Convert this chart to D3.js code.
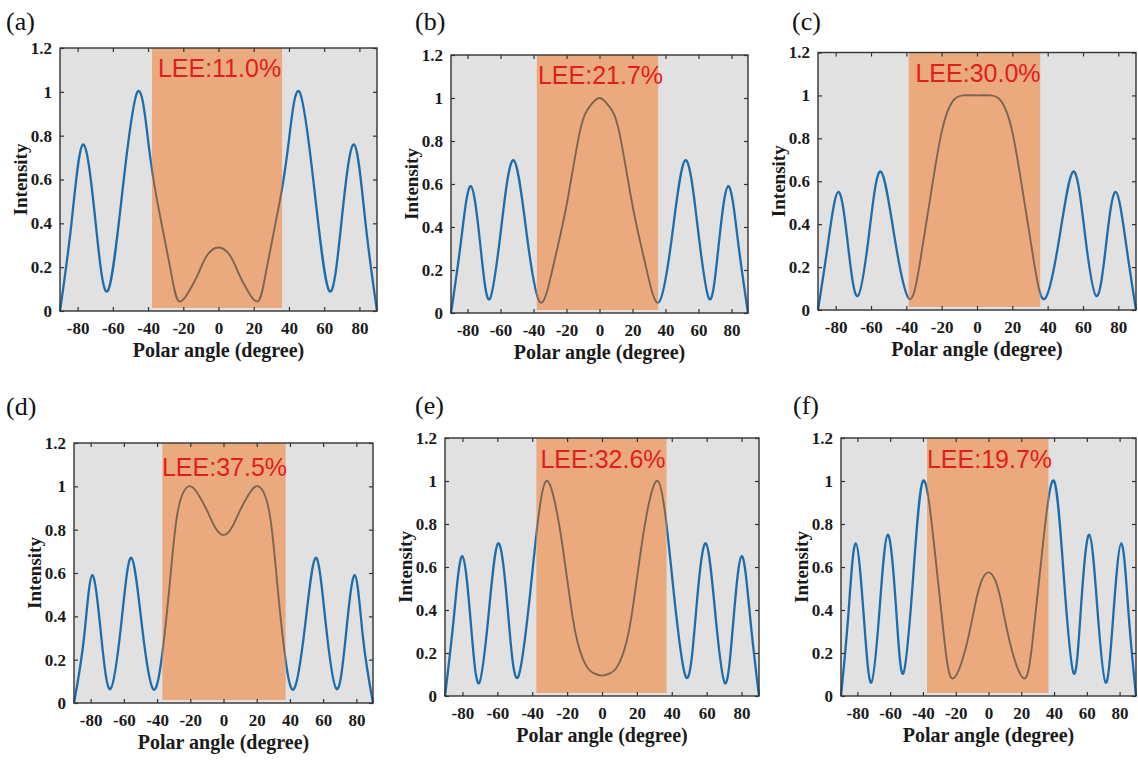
<!DOCTYPE html>
<html>
<head>
<meta charset="utf-8">
<script src="https://cdn.jsdelivr.net/npm/d3@7"></script>
<style>
  body { margin: 0; background: #fff; }
  svg { display: block; }
</style>
</head>
<body>
<svg id="chart" width="1138" height="760"></svg>
<script>
// panel names and LEE captions
var panelNames = ['(a)', '(b)', '(c)', '(d)', '(e)', '(f)'];
var leeLabels = ['LEE:11.0%', 'LEE:21.7%', 'LEE:30.0%', 'LEE:37.5%', 'LEE:32.6%', 'LEE:19.7%'];

// escape-cone band edges (degree)
var bandEdges = [[-37.8, 36.1], [-38, 35.6], [-38.7, 35.8], [-36.8, 37.4], [-37.6, 37], [-37.5, 36.6]];

var xTicks = [-80, -60, -40, -20, 0, 20, 40, 60, 80];
var yTicks = [0, 0.2, 0.4, 0.6, 0.8, 1, 1.2];

// polar angle vs intensity
var angleA = [-90, -83.5, -77, -70, -63, -54.5, -46, -40, -35, -27.5, -22.5, -16, -11.5, -6.8, 0, 6.8, 11.5, 16, 22.5, 27.5, 35, 40, 46, 54.5, 63, 70, 77, 83.5, 90];
var intensityA = [0, 0.40, 0.76, 0.42, 0.09, 0.55, 1.0, 0.78, 0.51, 0.20, 0.045, 0.10, 0.17, 0.25, 0.29, 0.25, 0.17, 0.10, 0.045, 0.20, 0.51, 0.78, 1.0, 0.55, 0.09, 0.42, 0.76, 0.40, 0];

var angleB = [-90, -84, -78, -72, -66.5, -59.5, -52, -44, -36, -28, -20, -12, -6, 0, 6, 12, 20, 28, 36, 44, 52, 59.5, 66.5, 72, 78, 84, 90];
var intensityB = [0, 0.33, 0.59, 0.30, 0.065, 0.40, 0.71, 0.36, 0.05, 0.22, 0.50, 0.84, 0.96, 1.0, 0.96, 0.84, 0.50, 0.22, 0.05, 0.36, 0.71, 0.40, 0.065, 0.30, 0.59, 0.33, 0];

var angleC = [-90, -84.5, -78.5, -73, -67.5, -61, -54.5, -46.5, -38.5, -32.5, -26.5, -20, -14, -8, 0, 8, 14, 20, 26.5, 32.5, 38.5, 46.5, 54.5, 61, 67.5, 73, 78.5, 84.5, 90];
var intensityC = [0, 0.30, 0.55, 0.30, 0.065, 0.36, 0.645, 0.33, 0.053, 0.21, 0.52, 0.83, 0.97, 1.0, 1.0, 1.0, 0.97, 0.83, 0.52, 0.21, 0.053, 0.33, 0.645, 0.36, 0.065, 0.30, 0.55, 0.30, 0];

var angleD = [-90, -84, -79, -73.5, -68, -61.5, -55.5, -49, -42.5, -37, -32, -27.5, -21, -15, -10, -5, 0, 5, 10, 15, 21, 27.5, 32, 37, 42.5, 49, 55.5, 61.5, 68, 73.5, 79, 84, 90];
var intensityD = [0, 0.30, 0.59, 0.30, 0.065, 0.37, 0.67, 0.35, 0.065, 0.22, 0.58, 0.885, 1.0, 0.96, 0.89, 0.81, 0.775, 0.81, 0.89, 0.96, 1.0, 0.885, 0.58, 0.22, 0.065, 0.35, 0.67, 0.37, 0.065, 0.30, 0.59, 0.30, 0];

var angleE = [-90, -85, -80, -75, -70.5, -65, -59.5, -54, -48, -40, -36, -32, -27, -22.5, -18, -14, -9, -4.5, 0, 4.5, 9, 14, 18, 22.5, 27, 32, 36, 40, 48, 54, 59.5, 65, 70.5, 75, 80, 85, 90];
var intensityE = [0, 0.36, 0.65, 0.32, 0.06, 0.38, 0.71, 0.40, 0.09, 0.57, 0.86, 1.0, 0.90, 0.69, 0.43, 0.25, 0.14, 0.105, 0.095, 0.105, 0.14, 0.25, 0.43, 0.69, 0.90, 1.0, 0.86, 0.57, 0.09, 0.40, 0.71, 0.38, 0.06, 0.32, 0.65, 0.36, 0];

var angleF = [-90, -85.5, -81, -76, -71.5, -66.5, -61.5, -56.5, -52, -46, -40, -33, -26.5, -21.5, -14, -8, -4, 0, 4, 8, 14, 21.5, 26.5, 33, 40, 46, 52, 56.5, 61.5, 66.5, 71.5, 76, 81, 85.5, 90];
var intensityF = [0, 0.38, 0.71, 0.36, 0.062, 0.40, 0.75, 0.42, 0.105, 0.55, 1.0, 0.69, 0.23, 0.082, 0.22, 0.43, 0.54, 0.575, 0.54, 0.43, 0.22, 0.082, 0.23, 0.69, 1.0, 0.55, 0.105, 0.42, 0.75, 0.40, 0.062, 0.36, 0.71, 0.38, 0];

var angles = [angleA, angleB, angleC, angleD, angleE, angleF];
var intensities = [intensityA, intensityB, intensityC, intensityD, intensityE, intensityF];

// where each panel sits on the page
var layout = [
  {x0: 60,  x1: 377,  y0: 48,  y1: 311, lx: 6,   ly: 30,  leeDy: 29},
  {x0: 451, x1: 748,  y0: 55,  y1: 313, lx: 415, ly: 30,  leeDy: 29},
  {x0: 818, x1: 1136, y0: 52.5, y1: 310, lx: 792, ly: 30, leeDy: 29},
  {x0: 74,  x1: 373,  y0: 443, y1: 703, lx: 6,   ly: 415, leeDy: 33},
  {x0: 445, x1: 759,  y0: 438, y1: 696, lx: 415, ly: 414, leeDy: 30},
  {x0: 841, x1: 1136, y0: 438, y1: 696, lx: 793, ly: 414, leeDy: 30}
];

var serif = '"Liberation Serif", "Times New Roman", serif',
    sans = '"Liberation Sans", Arial, sans-serif',
    grey_bg = '#e1e1e1',
    band_fill = '#ebaa7d',
    line_blue = '#1c6dad',
    line_in = '#7b6554',
    frame_col = '#333';

var svg = d3.select('#chart');
var defs = svg.append('defs');

panelNames.forEach(function(name, i) {
  var box = layout[i],
      band = bandEdges[i];

  var x = d3.scaleLinear().domain([-90, 90]).range([box.x0, box.x1]),
      y = d3.scaleLinear().domain([0, 1.2]).range([box.y1, box.y0]);

  var pts = angles[i].map(function(a, k) { return [a, intensities[i][k]]; });

  var g = svg.append('g');

  g.append('rect')
    .attr('x', box.x0).attr('y', box.y0)
    .attr('width', box.x1 - box.x0).attr('height', box.y1 - box.y0)
    .attr('fill', grey_bg);

  g.append('rect')
    .attr('x', x(band[0])).attr('y', box.y0)
    .attr('width', x(band[1]) - x(band[0])).attr('height', box.y1 - box.y0 - 3)
    .attr('fill', band_fill);

  // clip regions: outside band (blue) and inside band (muted)
  var outId = 'out' + i, inId = 'in' + i;
  var cOut = defs.append('clipPath').attr('id', outId);
  cOut.append('rect').attr('x', box.x0 - 5).attr('y', box.y0 - 5)
    .attr('width', x(band[0]) - box.x0 + 5).attr('height', box.y1 - box.y0 + 10);
  cOut.append('rect').attr('x', x(band[1])).attr('y', box.y0 - 5)
    .attr('width', box.x1 - x(band[1]) + 5).attr('height', box.y1 - box.y0 + 10);
  defs.append('clipPath').attr('id', inId)
    .append('rect').attr('x', x(band[0])).attr('y', box.y0 - 5)
    .attr('width', x(band[1]) - x(band[0])).attr('height', box.y1 - box.y0 + 10);

  var line = d3.line()
    .x(function(d) { return x(d[0]); })
    .y(function(d) { return y(Math.max(0, d[1])); })
    .curve(d3.curveNatural);

  g.append('path').datum(pts)
    .attr('d', line).attr('fill', 'none')
    .attr('stroke', line_blue).attr('stroke-width', 2.3)
    .attr('clip-path', 'url(#' + outId + ')');
  g.append('path').datum(pts)
    .attr('d', line).attr('fill', 'none')
    .attr('stroke', line_in).attr('stroke-width', 1.9)
    .attr('clip-path', 'url(#' + inId + ')');

  // axes, ticks pointing inward like matlab's box
  var bottom = g.append('g').attr('transform', 'translate(0,' + box.y1 + ')')
    .call(d3.axisBottom(x).tickValues(xTicks).tickSize(-4).tickPadding(11).tickFormat(String));
  var top = g.append('g').attr('transform', 'translate(0,' + box.y0 + ')')
    .call(d3.axisTop(x).tickValues(xTicks).tickSize(-4).tickFormat(''));
  var left = g.append('g').attr('transform', 'translate(' + box.x0 + ',0)')
    .call(d3.axisLeft(y).tickValues(yTicks).tickSize(-4).tickPadding(8).tickFormat(String));
  var right = g.append('g').attr('transform', 'translate(' + box.x1 + ',0)')
    .call(d3.axisRight(y).tickValues(yTicks).tickSize(-4).tickFormat(''));

  [bottom, top, left, right].forEach(function(ax) {
    ax.select('.domain').remove();
    ax.selectAll('line').attr('stroke', frame_col).attr('stroke-width', 1.2);
    ax.selectAll('text')
      .attr('fill', '#1a1a1a')
      .style('font-family', serif)
      .style('font-weight', 'bold')
      .style('font-size', '17px');
  });

  g.append('rect')
    .attr('x', box.x0).attr('y', box.y0)
    .attr('width', box.x1 - box.x0).attr('height', box.y1 - box.y0)
    .attr('fill', 'none').attr('stroke', frame_col).attr('stroke-width', 1.4);

  g.append('text')
    .attr('x', x(0) + 1).attr('y', box.y0 + box.leeDy)
    .attr('text-anchor', 'middle')
    .style('font-family', sans).style('font-size', '25px')
    .attr('fill', '#e21d1d')
    .text(leeLabels[i]);

  g.append('text')
    .attr('x', x(0)).attr('y', box.y1 + 46)
    .attr('text-anchor', 'middle')
    .style('font-family', serif).style('font-weight', 'bold').style('font-size', '20px')
    .attr('fill', '#1a1a1a')
    .text('Polar angle (degree)');

  g.append('text')
    .attr('transform', 'translate(' + (box.x0 - 33) + ',' + ((box.y0 + box.y1) / 2) + ') rotate(-90)')
    .attr('text-anchor', 'middle')
    .style('font-family', serif).style('font-weight', 'bold').style('font-size', '19px')
    .attr('fill', '#1a1a1a')
    .text('Intensity');

  g.append('text')
    .attr('x', box.lx).attr('y', box.ly)
    .style('font-family', serif).style('font-size', '26px')
    .attr('fill', '#111')
    .text(name);
});
</script>
</body>
</html>
